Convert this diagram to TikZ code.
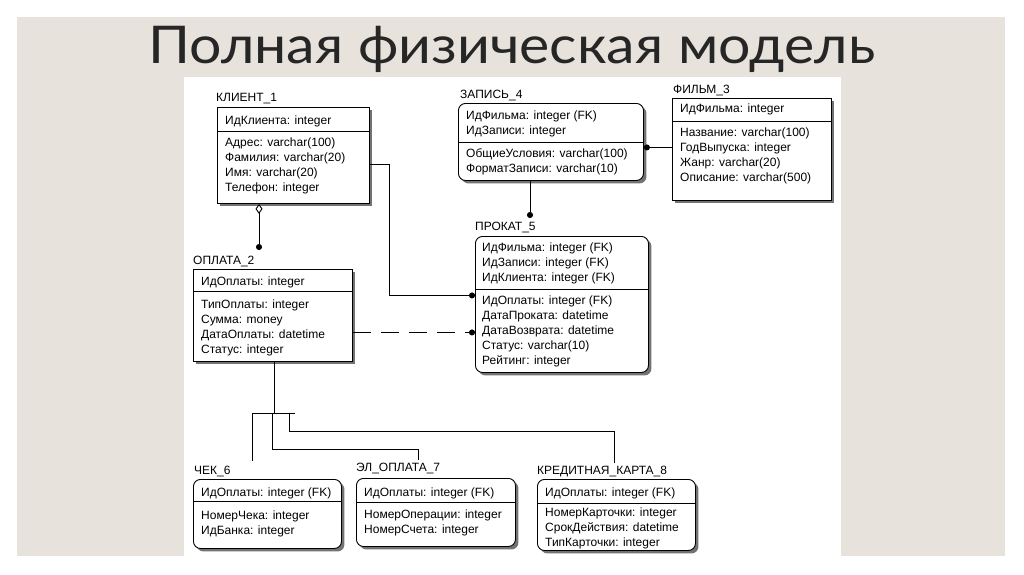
\documentclass[tikz,border=0pt]{standalone}
\usepackage{fontspec}
\setmainfont{Liberation Sans}
\newfontfamily\titlefont{Lato}[FakeStretch=1.1]
\usepackage{tikz}
\usetikzlibrary{arrows.meta,positioning,calc,shadows}
\definecolor{slidebg}{RGB}{231,227,220}
\definecolor{titlegray}{RGB}{38,38,38}

\tikzset{
  entity/.style={draw, line width=0.9pt, fill=white, inner sep=0pt, anchor=north west,
    drop shadow={shadow xshift=3pt, shadow yshift=-3pt, fill=black!55, opacity=1}},
  dependent/.style={entity, rounded corners=7pt},
  attr/.style={anchor=base west, align=left, inner sep=0pt, font=\fontsize{12}{15}\selectfont},
  caption/.style={anchor=base west, inner sep=0pt, font=\fontsize{12}{15}\selectfont},
  rel/.style={line width=0.9pt},
  dot/.style={-{Circle[length=6pt]}}
}

\begin{document}
\begin{tikzpicture}[x=1pt,y=-1pt,>=Stealth]
  \useasboundingbox (0,0) rectangle (1024,574);
  \fill[white] (0,0) rectangle (1024,574);
  \fill[slidebg] (17,17) rectangle (1005,556);
  \fill[white] (184,77) rectangle (841,556);

  \node[anchor=base, inner sep=0pt, text=titlegray, font=\titlefont\fontsize{52}{52}\selectfont] (title) at (512,63) {Полная физическая модель};

  % independent entities (multi-line texts sit on their last baseline)
  \node[entity, minimum width=152pt, minimum height=96pt] (klient) at (217,107) {};
  \node[caption] (klient-t) at ([xshift=-1pt,yshift=6pt]klient.north west) {КЛИЕНТ\_1};
  \node[attr] (klient-k) at ([xshift=8pt,yshift=-17pt]klient.north west) {ИдКлиента: integer};
  \draw ([yshift=-24pt]klient.north west) -- ([yshift=-24pt]klient.north east);
  \node[attr] (klient-a) at ([xshift=8pt,yshift=-84pt]klient.north west) {Адрес: varchar(100)\\Фамилия: varchar(20)\\Имя: varchar(20)\\Телефон: integer};

  \node[entity, minimum width=159pt, minimum height=102pt] (film) at (672,98) {};
  \node[caption] (film-t) at ([xshift=1pt,yshift=5pt]film.north west) {ФИЛЬМ\_3};
  \node[attr] (film-k) at ([xshift=8pt,yshift=-14pt]film.north west) {ИдФильма: integer};
  \draw ([yshift=-23pt]film.north west) -- ([yshift=-23pt]film.north east);
  \node[attr] (film-a) at ([xshift=8pt,yshift=-83pt]film.north west) {Название: varchar(100)\\ГодВыпуска: integer\\Жанр: varchar(20)\\Описание: varchar(500)};

  \node[entity, minimum width=159pt, minimum height=92pt] (oplata) at (193,269) {};
  \node[caption] (oplata-t) at ([yshift=5pt]oplata.north west) {ОПЛАТА\_2};
  \node[attr] (oplata-k) at ([xshift=8pt,yshift=-16pt]oplata.north west) {ИдОплаты: integer};
  \draw ([yshift=-22pt]oplata.north west) -- ([yshift=-22pt]oplata.north east);
  \node[attr] (oplata-a) at ([xshift=8pt,yshift=-84pt]oplata.north west) {ТипОплаты: integer\\Сумма: money\\ДатаОплаты: datetime\\Статус: integer};

  % dependent entities
  \node[dependent, minimum width=185pt, minimum height=77pt] (zapis) at (458,103) {};
  \node[caption] (zapis-t) at ([xshift=2pt,yshift=5pt]zapis.north west) {ЗАПИСЬ\_4};
  \node[attr] (zapis-k) at ([xshift=8pt,yshift=-31pt]zapis.north west) {ИдФильма: integer (FK)\\ИдЗаписи: integer};
  \draw ([yshift=-39pt]zapis.north west) -- ([yshift=-39pt]zapis.north east);
  \node[attr] (zapis-a) at ([xshift=8pt,yshift=-69pt]zapis.north west) {ОбщиеУсловия: varchar(100)\\ФорматЗаписи: varchar(10)};

  \node[dependent, minimum width=173pt, minimum height=136pt] (prokat) at (475,236) {};
  \node[caption] (prokat-t) at ([yshift=6pt]prokat.north west) {ПРОКАТ\_5};
  \node[attr] (prokat-k) at ([xshift=7pt,yshift=-45pt]prokat.north west) {ИдФильма: integer (FK)\\ИдЗаписи: integer (FK)\\ИдКлиента: integer (FK)};
  \draw ([yshift=-53pt]prokat.north west) -- ([yshift=-53pt]prokat.north east);
  \node[attr] (prokat-a) at ([xshift=7pt,yshift=-128pt]prokat.north west) {ИдОплаты: integer (FK)\\ДатаПроката: datetime\\ДатаВозврата: datetime\\Статус: varchar(10)\\Рейтинг: integer};

  \node[dependent, minimum width=148pt, minimum height=69pt] (chek) at (193,479) {};
  \node[caption] (chek-t) at ([xshift=1pt,yshift=5pt]chek.north west) {ЧЕК\_6};
  \node[attr] (chek-k) at ([xshift=8pt,yshift=-17pt]chek.north west) {ИдОплаты: integer (FK)};
  \draw ([yshift=-22pt]chek.north west) -- ([yshift=-22pt]chek.north east);
  \node[attr] (chek-a) at ([xshift=8pt,yshift=-55pt]chek.north west) {НомерЧека: integer\\ИдБанка: integer};

  \node[dependent, minimum width=159pt, minimum height=68pt] (elopl) at (356,478) {};
  \node[caption] (elopl-t) at ([yshift=7pt]elopl.north west) {ЭЛ\_ОПЛАТА\_7};
  \node[attr] (elopl-k) at ([xshift=8pt,yshift=-18pt]elopl.north west) {ИдОплаты: integer (FK)};
  \draw ([yshift=-24pt]elopl.north west) -- ([yshift=-24pt]elopl.north east);
  \node[attr] (elopl-a) at ([xshift=8pt,yshift=-55pt]elopl.north west) {НомерОперации: integer\\НомерСчета: integer};

  \node[dependent, minimum width=158pt, minimum height=71pt] (kredit) at (537,479) {};
  \node[caption] (kredit-t) at ([yshift=5pt]kredit.north west) {КРЕДИТНАЯ\_КАРТА\_8};
  \node[attr] (kredit-k) at ([xshift=8pt,yshift=-17pt]kredit.north west) {ИдОплаты: integer (FK)};
  \draw ([yshift=-24pt]kredit.north west) -- ([yshift=-24pt]kredit.north east);
  \node[attr] (kredit-a) at ([xshift=8pt,yshift=-67pt]kredit.north west) {НомерКарточки: integer\\СрокДействия: datetime\\ТипКарточки: integer};

  % relationships
  \coordinate (oplata-in) at (259,250);
  \coordinate (prokat-in) at (530,218);
  \draw[rel, {Diamond[open,length=10pt,width=7pt]}-{Circle[length=6pt]}] (klient.south -| oplata-in) -- (oplata-in);
  \draw[rel, dot] (zapis.south -| prokat-in) -- (prokat-in);
  \draw[rel, dot] ([yshift=2pt]film.west) -- ([yshift=-5.5pt]zapis.east);
  \draw[rel, dot] ([yshift=-9pt]klient.east) -- ++(20,0) |- ([yshift=9pt]prokat.west);
  \draw[rel, dot, dash pattern=on 18pt off 10pt] ([yshift=-17pt]oplata.east) -- ([yshift=-28pt]prokat.west);

  % category
  \coordinate (cat) at (274,413);
  \coordinate (chek-in) at (252,461);
  \coordinate (elopl-in) at (418,460);
  \coordinate (kredit-in) at (614,463);
  \draw[rel] (oplata.south -| cat) -- (cat);
  \draw[rel] ([xshift=-22pt]cat) -- ([xshift=21pt]cat);
  \draw[rel] (chek-in |- cat) -- (chek-in);
  \draw[rel] ([xshift=-2pt]cat) |- ([yshift=11pt]elopl-in) -- (elopl-in);
  \draw[rel] ([xshift=15pt]cat) |- ([yshift=32pt]kredit-in) -- (kredit-in);
\end{tikzpicture}
\end{document}
